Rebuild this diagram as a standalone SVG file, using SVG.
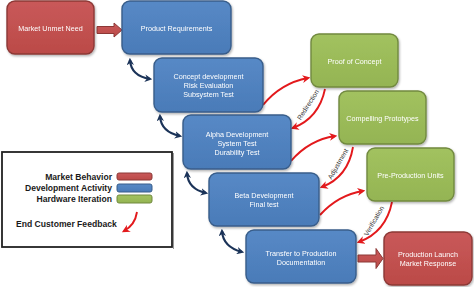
<svg xmlns="http://www.w3.org/2000/svg" width="474" height="287" viewBox="0 0 474 287">
  <style>
    .box { stroke-width: 1.4; }
    .red { fill: url(#gRed); stroke: #8c3836; }
    .blue { fill: url(#gBlue); stroke: #385d8a; }
    .green { fill: url(#gGreen); stroke: #71893f; }
    .lbl { font-family: "Liberation Sans", Arial, sans-serif; font-size: 7.2px; fill: #ffffff; text-anchor: middle; }
    .tag { font-family: "Liberation Sans", Arial, sans-serif; font-size: 6.8px; fill: #333333; text-anchor: middle; }
    .leg { font-family: "Liberation Sans", Arial, sans-serif; font-size: 8.6px; font-weight: bold; fill: #1a1a1a; }
    .nav { fill: none; stroke: #1b3358; stroke-width: 2.2; marker-start: url(#navHead); marker-end: url(#navHead); }
    .fb { fill: none; stroke: #e3191c; stroke-width: 1.9; marker-end: url(#redHead); }
    .fat { stroke-width: 1; }
  </style>
  <defs>
    <linearGradient id="gRed" x1="0" y1="0" x2="0" y2="1">
      <stop offset="0" stop-color="#c9595a"/>
      <stop offset="1" stop-color="#bb4a47"/>
    </linearGradient>
    <linearGradient id="gBlue" x1="0" y1="0" x2="0" y2="1">
      <stop offset="0" stop-color="#5789c6"/>
      <stop offset="1" stop-color="#4a7bb8"/>
    </linearGradient>
    <linearGradient id="gGreen" x1="0" y1="0" x2="0" y2="1">
      <stop offset="0" stop-color="#a2c25f"/>
      <stop offset="1" stop-color="#94b453"/>
    </linearGradient>
    <filter id="shadow" x="-10%" y="-10%" width="125%" height="130%">
      <feDropShadow dx="1" dy="1.5" stdDeviation="1.2" flood-color="#000000" flood-opacity="0.3"/>
    </filter>
    <marker id="navHead" viewBox="0 0 10 10" refX="7" refY="5" markerWidth="3.4" markerHeight="3.4" orient="auto-start-reverse" markerUnits="strokeWidth">
      <path d="M0,0 L10,5 L0,10 L3,5 Z" fill="#1b3358"/>
    </marker>
    <marker id="redHead" viewBox="0 0 10 10" refX="7" refY="5" markerWidth="4.2" markerHeight="4.2" orient="auto" markerUnits="strokeWidth">
      <path d="M0,0 L10,5 L0,10 L3,5 Z" fill="#e3191c"/>
    </marker>
  </defs>

  <rect width="474" height="287" fill="#ffffff"/>

  <!-- legend -->
  <g id="legend">
    <rect x="2" y="152" width="170" height="95" fill="#ffffff" stroke="#222222" stroke-width="1.8"/>
    <line x1="173.5" y1="153" x2="173.5" y2="249" stroke="#9a9a9a" stroke-width="1"/>
    <text class="leg" x="112" y="180" text-anchor="end">Market Behavior</text>
    <text class="leg" x="112" y="191" text-anchor="end">Development Activity</text>
    <text class="leg" x="112" y="202" text-anchor="end">Hardware Iteration</text>
    <rect class="red" x="117" y="173" width="35" height="7" rx="2" stroke-width="1"/>
    <rect class="blue" x="117" y="184" width="35" height="8" rx="2" stroke-width="1"/>
    <rect class="green" x="117" y="195" width="35" height="8" rx="2" stroke-width="1"/>
    <text class="leg" x="16" y="227">End Customer Feedback</text>
    <path class="fb" d="M137,212 Q135,225 124,231"/>
  </g>

  <!-- connectors -->
  <g id="connectors">
    <path class="red fat" d="M97,26.5 H114 V23 L122,30 L114,37 V33.5 H97 Z"/>
    <path class="red fat" d="M358,255 H376 V248.5 L383,258.5 L376,268.5 V262 H358 Z"/>
    <path class="nav" d="M130,60 Q131,76 150,79"/>
    <path class="nav" d="M160,116 Q161,132 180,136"/>
    <path class="nav" d="M187,173 Q188,189 206,193"/>
    <path class="nav" d="M222,231 Q223,247 242,252"/>

    <path class="fb" d="M263,105 Q281,83 308,78"/>
    <path class="fb" d="M325,89 Q319,118 293,128"/>
    <text class="tag" transform="translate(310,106) rotate(-57)">Redirection</text>

    <path class="fb" d="M291,161 Q309,140 335,136"/>
    <path class="fb" d="M353,147 Q348,177 322,187"/>
    <text class="tag" transform="translate(340,165) rotate(-60)">Adjustment</text>

    <path class="fb" d="M320,215 Q338,195 363,191"/>
    <path class="fb" d="M392,202 Q386,232 359,242"/>
    <text class="tag" transform="translate(376,222) rotate(-60)">Verification</text>
  </g>

  <!-- nodes -->
  <g id="market-unmet-need" filter="url(#shadow)">
    <rect class="box red" x="7" y="1" width="87" height="53" rx="8"/>
    <text class="lbl" x="50.5" y="30.5">Market Unmet Need</text>
  </g>
  <g id="product-requirements" filter="url(#shadow)">
    <rect class="box blue" x="122" y="1" width="109" height="53" rx="8"/>
    <text class="lbl" x="176.5" y="30.5">Product Requirements</text>
  </g>
  <g id="concept-development" filter="url(#shadow)">
    <rect class="box blue" x="154" y="58" width="109" height="54" rx="8"/>
    <text class="lbl" x="208.5" y="78.5">Concept development</text>
    <text class="lbl" x="208.5" y="87.5">Risk Evaluation</text>
    <text class="lbl" x="208.5" y="96.5">Subsystem Test</text>
  </g>
  <g id="alpha-development" filter="url(#shadow)">
    <rect class="box blue" x="183" y="115" width="108" height="54" rx="8"/>
    <text class="lbl" x="237" y="136.5">Alpha Development</text>
    <text class="lbl" x="237" y="145.5">System Test</text>
    <text class="lbl" x="237" y="154.5">Durability Test</text>
  </g>
  <g id="beta-development" filter="url(#shadow)">
    <rect class="box blue" x="209" y="173" width="110" height="53" rx="8"/>
    <text class="lbl" x="264" y="197.5">Beta Development</text>
    <text class="lbl" x="264" y="207">Final test</text>
  </g>
  <g id="transfer-to-production" filter="url(#shadow)">
    <rect class="box blue" x="246" y="230" width="110" height="53" rx="8"/>
    <text class="lbl" x="301" y="255.5">Transfer to Production</text>
    <text class="lbl" x="301" y="265">Documentation</text>
  </g>
  <g id="proof-of-concept" filter="url(#shadow)">
    <rect class="box green" x="311" y="34" width="87" height="53" rx="8"/>
    <text class="lbl" x="354.5" y="63.5">Proof of Concept</text>
  </g>
  <g id="compelling-prototypes" filter="url(#shadow)">
    <rect class="box green" x="339" y="91" width="87" height="53" rx="8"/>
    <text class="lbl" x="382.5" y="120.5">Compelling Prototypes</text>
  </g>
  <g id="pre-production-units" filter="url(#shadow)">
    <rect class="box green" x="367" y="148" width="87" height="53" rx="8"/>
    <text class="lbl" x="410.5" y="177.5">Pre-Production Units</text>
  </g>
  <g id="production-launch" filter="url(#shadow)">
    <rect class="box red" x="384" y="232" width="88" height="53" rx="8"/>
    <text class="lbl" x="428" y="256.5">Production Launch</text>
    <text class="lbl" x="428" y="266">Market Response</text>
  </g>
</svg>
